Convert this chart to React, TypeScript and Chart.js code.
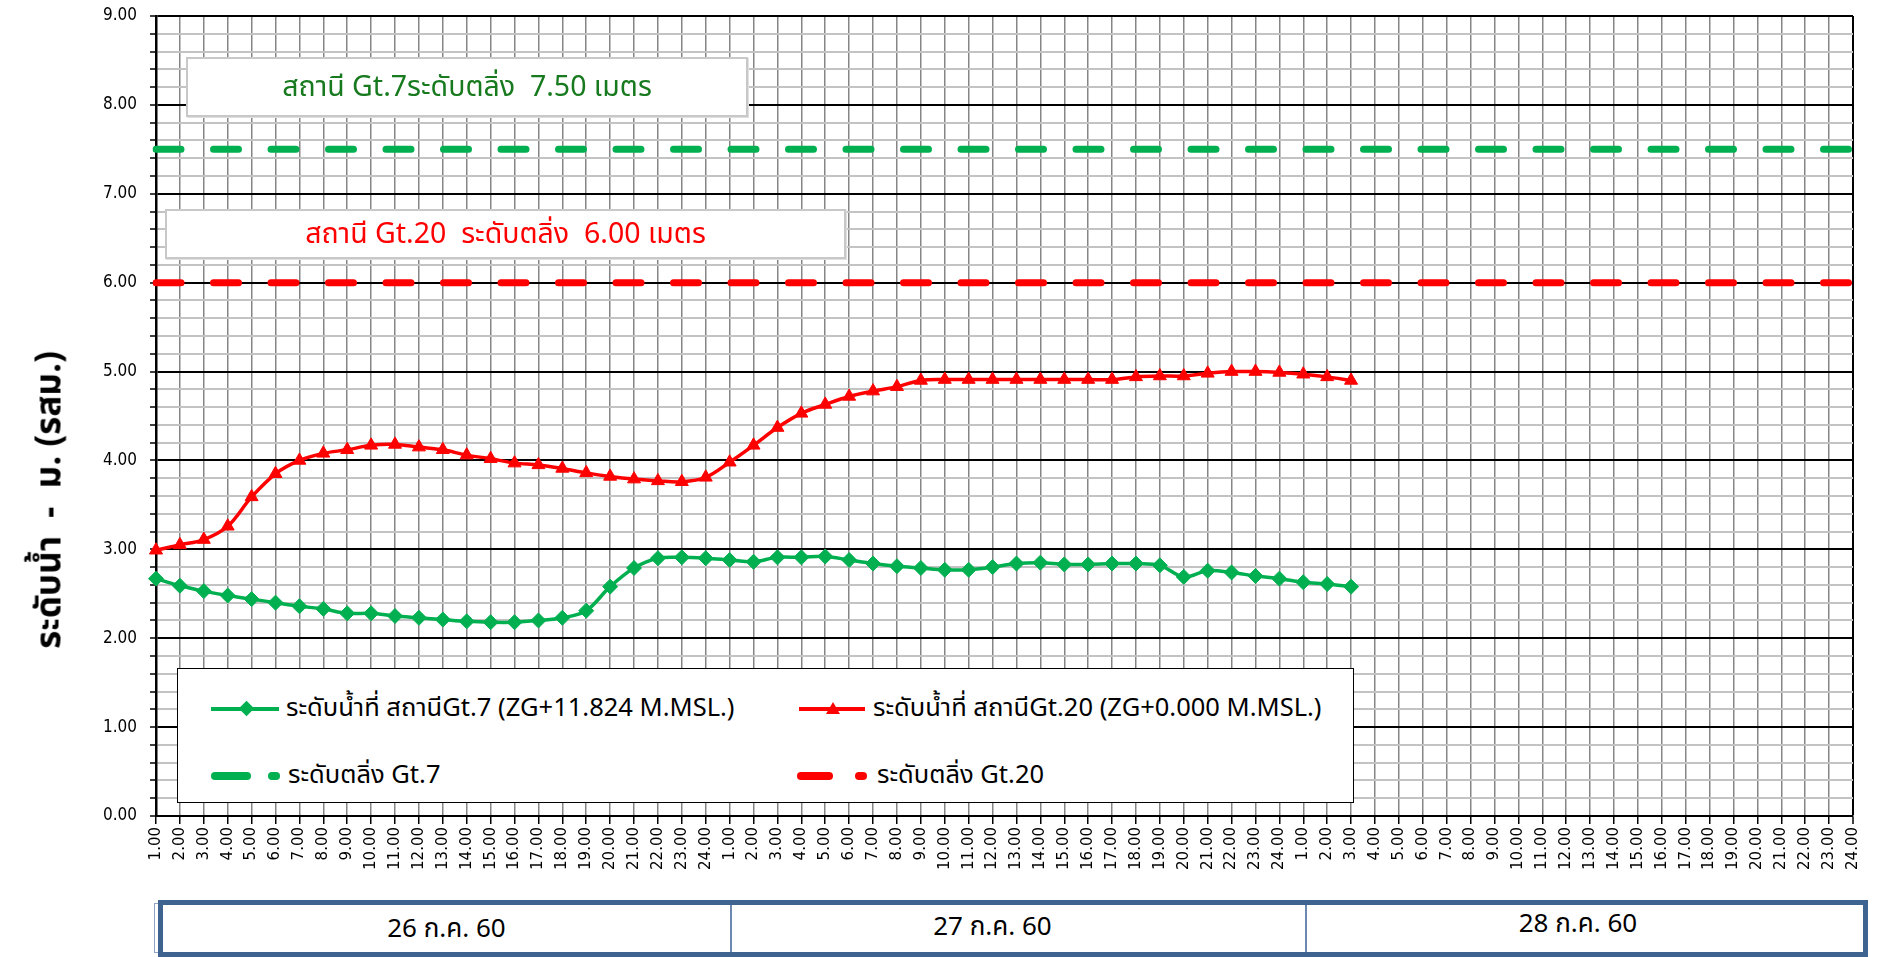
import React, { useEffect, useRef } from 'react';
import { Chart, registerables } from 'chart.js';

Chart.register(...registerables);

// ---------- data ----------
const hourLabels = [
  '1.00', '2.00', '3.00', '4.00', '5.00', '6.00', '7.00', '8.00', '9.00', '10.00', '11.00', '12.00',
  '13.00', '14.00', '15.00', '16.00', '17.00', '18.00', '19.00', '20.00', '21.00', '22.00', '23.00', '24.00',
];
const dayLabels = ['26 ก.ค. 60', '27 ก.ค. 60', '28 ก.ค. 60'];

// water level at Gt.7 (hourly from 26 Jul 1.00)
const gt7Level = [
  2.67, 2.59, 2.53, 2.48, 2.44, 2.40, 2.36, 2.33, 2.28, 2.28, 2.25, 2.23,
  2.21, 2.19, 2.18, 2.18, 2.20, 2.23, 2.31, 2.58, 2.79, 2.90, 2.91, 2.90,
  2.88, 2.86, 2.91, 2.91, 2.92, 2.88, 2.84, 2.81, 2.79, 2.77, 2.77, 2.80,
  2.84, 2.85, 2.83, 2.83, 2.84, 2.84, 2.82, 2.69, 2.76, 2.74, 2.70, 2.67,
  2.63, 2.61, 2.58,
];
// water level at Gt.20
const gt20Level = [
  2.99, 3.05, 3.11, 3.26, 3.59, 3.85, 4.00, 4.08, 4.12, 4.17, 4.18, 4.15,
  4.12, 4.06, 4.02, 3.97, 3.95, 3.91, 3.86, 3.82, 3.79, 3.77, 3.76, 3.81,
  3.98, 4.17, 4.37, 4.53, 4.63, 4.72, 4.78, 4.83, 4.90, 4.91, 4.91, 4.91,
  4.91, 4.91, 4.91, 4.91, 4.91, 4.94, 4.95, 4.95, 4.98, 5.00, 5.00, 4.99,
  4.97, 4.94, 4.90,
];
const bankGt7 = 7.5;
const bankGt20 = 6.0;

const seriesNames = [
  'ระดับน้ำที่ สถานีGt.7 (ZG+11.824 M.MSL.)',
  'ระดับน้ำที่ สถานีGt.20 (ZG+0.000 M.MSL.)',
  'ระดับตลิ่ง Gt.7',
  'ระดับตลิ่ง Gt.20',
];
const yAxisTitle = 'ระดับน้ำ  -  ม. (รสม.)';
const note7 = 'สถานี Gt.7ระดับตลิ่ง  7.50 เมตร';
const note20 = 'สถานี Gt.20  ระดับตลิ่ง  6.00 เมตร';

const categories: string[] = [];
dayLabels.forEach(() => hourLabels.forEach((h) => categories.push(h)));

// ---------- styles ----------
const GREEN = '#00b050';
const RED = '#ff0000';
const THAI = "'Noto Sans Thai', 'Noto Sans Thai UI', Tahoma, 'Noto Sans', 'DejaVu Sans', sans-serif";

const isMajor = (v: number) => Math.abs(v - Math.round(v)) < 1e-6;

export default function App() {
  const ref = useRef<HTMLCanvasElement>(null);

  useEffect(() => {
    if (!ref.current) return;
    const last = categories.length - 1;
    const chart = new Chart(ref.current, {
      type: 'line',
      data: {
        labels: categories,
        datasets: [
          {
            label: seriesNames[1],
            data: gt20Level,
            borderColor: RED,
            backgroundColor: RED,
            borderWidth: 3.5,
            pointStyle: 'triangle',
            pointRadius: 7.5,
            pointBorderWidth: 1,
            tension: 0.35,
            order: 0,
          },
          {
            label: seriesNames[0],
            data: gt7Level,
            borderColor: GREEN,
            backgroundColor: GREEN,
            borderWidth: 3.5,
            pointStyle: 'rectRot',
            pointRadius: 7.5,
            pointBorderWidth: 1,
            tension: 0.35,
            order: 1,
          },
          {
            label: seriesNames[2],
            data: categories.map(() => bankGt7),
            borderColor: GREEN,
            borderWidth: 7,
            borderDash: [25, 32.5],
            borderCapStyle: 'round',
            pointRadius: 0,
            order: 2,
          },
          {
            label: seriesNames[3],
            data: categories.map(() => bankGt20),
            borderColor: RED,
            borderWidth: 7,
            borderDash: [25, 32.5],
            borderCapStyle: 'round',
            pointRadius: 0,
            order: 3,
          },
        ],
      },
      options: {
        responsive: false,
        animation: false,
        devicePixelRatio: 1,
        layout: { autoPadding: false, padding: { left: 0, top: 16, right: 24, bottom: 0 } },
        plugins: { legend: { display: false }, tooltip: { enabled: false } },
        scales: {
          x: {
            type: 'category',
            offset: false,
            grid: {
              color: (c: any) => (c.index === last ? '#000' : '#858585'),
              lineWidth: (c: any) => (c.index === last ? 2 : 1.5),
              tickColor: '#000',
              tickLength: 8,
              tickWidth: 1.5,
            },
            border: { color: '#000', width: 2 },
            ticks: {
              autoSkip: false,
              maxRotation: 90,
              minRotation: 90,
              padding: 3,
              color: '#000',
              font: { family: "'DejaVu Sans', Verdana, sans-serif", size: 15 },
            },
            afterFit: (s: any) => {
              s.height = 141;
            },
          },
          y: {
            min: 0,
            max: 9,
            ticks: {
              stepSize: 0.2,
              autoSkip: false,
              maxTicksLimit: 200,
              padding: 13,
              color: '#000',
              font: { family: "'DejaVu Sans Condensed', 'DejaVu Sans', sans-serif", size: 17, lineHeight: 0.2 },
              callback: (v: any) => (isMajor(Number(v)) ? Number(v).toFixed(2) : ''),
            },
            grid: {
              color: (c: any) => (c.tick && isMajor(c.tick.value) ? '#000' : '#c3c3c3'),
              lineWidth: 2,
              tickColor: '#000',
              tickLength: 6,
              tickWidth: 1.5,
            },
            border: { color: '#000', width: 2.5 },
            afterFit: (s: any) => {
              s.width = 156;
            },
          },
        },
      },
    } as any);
    return () => chart.destroy();
  }, []);

  const abs = (s: React.CSSProperties): React.CSSProperties => ({ position: 'absolute', ...s });

  const noteBox = (left: number, top: number, w: number, h: number, color: string, text: string) => (
    <div
      style={abs({
        left,
        top,
        width: w,
        height: h,
        boxSizing: 'border-box',
        background: '#fff',
        border: '2px solid #c8c8c8',
        boxShadow: '1px 1px 0 #e0e0e0',
        display: 'flex',
        alignItems: 'center',
        justifyContent: 'center',
        color,
        fontFamily: THAI,
        fontSize: 28.5,
        whiteSpace: 'pre',
      })}
    >
      {text}
    </div>
  );

  const legendText = (left: number, cy: number, text: string) => (
    <div
      style={abs({
        left,
        top: cy,
        transform: 'translateY(-50%)',
        fontFamily: THAI,
        fontSize: 25.5,
        color: '#000',
        whiteSpace: 'pre',
        lineHeight: 1,
      })}
    >
      {text}
    </div>
  );

  const cells = [
    { left: 163, right: 730, shift: 0, lift: 0 },
    { left: 730, right: 1305, shift: -52, lift: 4 },
    { left: 1305, right: 1863, shift: -14, lift: 10 },
  ];

  return (
    <div
      style={{
        position: 'absolute',
        left: 0,
        top: 0,
        width: 1877,
        height: 957,
        background: '#fff',
        overflow: 'hidden',
      }}
    >
      <canvas ref={ref} width={1877} height={957} style={{ position: 'absolute', left: 0, top: 0 }} />

      {/* y-axis title */}
      <div
        style={abs({
          left: 50,
          top: 500,
          transform: 'translate(-50%, -50%) rotate(-90deg)',
          fontFamily: THAI,
          fontWeight: 'bold',
          fontSize: 35,
          whiteSpace: 'pre',
          color: '#000',
        })}
      >
        {yAxisTitle}
      </div>

      {noteBox(186, 57, 562, 60, '#187a1e', note7)}
      {noteBox(165, 209, 681, 50, RED, note20)}

      {/* legend */}
      <div
        style={abs({
          left: 177,
          top: 668,
          width: 1177,
          height: 135,
          boxSizing: 'border-box',
          background: '#fff',
          border: '1.5px solid #000',
        })}
      >
        {/* row 1 green */}
        <div style={abs({ left: 33, top: 38, width: 68, height: 4, background: GREEN })} />
        <div
          style={abs({ left: 63, top: 34, width: 11, height: 11, background: GREEN, transform: 'rotate(45deg)' })}
        />
        {legendText(108, 40, seriesNames[0])}
        {/* row 1 red */}
        <div style={abs({ left: 621, top: 38, width: 66, height: 4, background: RED })} />
        <div
          style={abs({
            left: 648,
            top: 33,
            width: 0,
            height: 0,
            borderLeft: '7px solid transparent',
            borderRight: '7px solid transparent',
            borderBottom: '12px solid ' + RED,
          })}
        />
        {legendText(695, 40, seriesNames[1])}
        {/* row 2 green dashed */}
        <div style={abs({ left: 33, top: 103, width: 40, height: 8, borderRadius: 4, background: GREEN })} />
        <div style={abs({ left: 90, top: 103, width: 12, height: 8, borderRadius: 4, background: GREEN })} />
        {legendText(110, 107, seriesNames[2])}
        {/* row 2 red dashed */}
        <div style={abs({ left: 619, top: 103, width: 36, height: 8, borderRadius: 4, background: RED })} />
        <div style={abs({ left: 677, top: 103, width: 12, height: 8, borderRadius: 4, background: RED })} />
        {legendText(699, 107, seriesNames[3])}
      </div>

      {/* date band */}
      <div style={abs({ left: 154, top: 903, width: 8, height: 50, boxSizing: 'border-box', border: '1px solid #8ea4c2' })} />
      <div
        style={abs({
          left: 158,
          top: 900,
          width: 1710,
          height: 57,
          boxSizing: 'border-box',
          border: '5px solid #3f6391',
          background: '#fff',
        })}
      />
      {cells.map((c, i) => (
        <div
          key={i}
          style={abs({
            left: c.left,
            top: 905,
            width: c.right - c.left,
            height: 47,
            boxSizing: 'border-box',
            borderLeft: i > 0 ? '2px solid #6a88b0' : 'none',
            display: 'flex',
            alignItems: 'center',
            justifyContent: 'center',
            fontFamily: THAI,
            fontSize: 26,
            color: '#000',
            paddingRight: -c.shift,
            paddingBottom: c.lift,
            whiteSpace: 'pre',
          })}
        >
          {dayLabels[i]}
        </div>
      ))}
    </div>
  );
}
